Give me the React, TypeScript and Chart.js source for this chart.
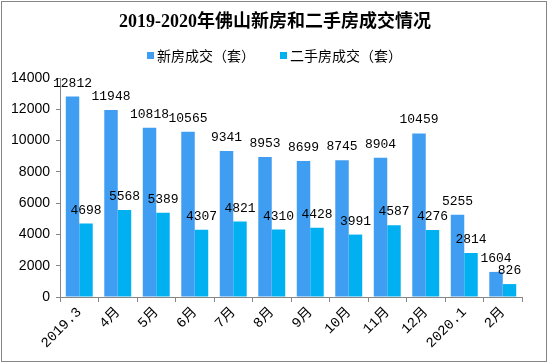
import React, { useEffect, useRef } from "react";
import { Chart, registerables } from "chart.js";

Chart.register(...registerables);

const categories = ["2019.3", "4月", "5月", "6月", "7月", "8月", "9月", "10月", "11月", "12月", "2020.1", "2月"];
const newHouse = [12812, 11948, 10818, 10565, 9341, 8953, 8699, 8745, 8904, 10459, 5255, 1604];
const secondHand = [4698, 5568, 5389, 4307, 4821, 4310, 4428, 3991, 4587, 4276, 2814, 826];
const seriesNames = ["新房成交（套）", "二手房成交（套）"];
const titleText = "2019-2020年佛山新房和二手房成交情况";
const colors = ["#409EF2", "#00B0F0"];

const W = 550;
const H = 363;

const decorPlugin = {
  id: "decor",
  beforeDraw(chart: any) {
    const ctx = chart.ctx;
    ctx.save();
    ctx.fillStyle = "#ffffff";
    ctx.fillRect(0, 0, W, H);
    ctx.strokeStyle = "#868686";
    ctx.lineWidth = 1;
    ctx.strokeRect(1.5, 1.5, 545, 360);
    // title
    ctx.fillStyle = "#000";
    ctx.font = "bold 18px 'Liberation Serif', 'Noto Sans CJK SC', serif";
    ctx.textAlign = "center";
    ctx.textBaseline = "middle";
    ctx.fillText(titleText, 275, 22);
    // legend
    ctx.font = "14px 'Noto Sans CJK SC', sans-serif";
    ctx.textAlign = "left";
    const xs = [147, 280];
    chart.data.datasets.forEach((ds: any, i: number) => {
      ctx.fillStyle = ds.backgroundColor;
      ctx.fillRect(xs[i], 52, 7, 7);
      ctx.fillStyle = "#000";
      ctx.fillText(ds.label, xs[i] + 10, 56);
    });
    ctx.restore();
  },
  afterDatasetsDraw(chart: any) {
    const ctx = chart.ctx;
    ctx.save();
    ctx.font = "13px 'Liberation Mono', monospace";
    ctx.fillStyle = "#000";
    ctx.textAlign = "center";
    ctx.textBaseline = "alphabetic";
    chart.data.datasets.forEach((ds: any, i: number) => {
      const meta = chart.getDatasetMeta(i);
      meta.data.forEach((bar: any, j: number) => {
        ctx.fillText(String(ds.data[j]), bar.x, bar.y - 10);
      });
    });
    ctx.restore();
  },
};

export default function App() {
  const ref = useRef<HTMLCanvasElement | null>(null);
  useEffect(() => {
    if (!ref.current) return;
    const chart = new Chart(ref.current, {
      type: "bar",
      data: {
        labels: categories,
        datasets: [
          { label: seriesNames[0], data: newHouse, backgroundColor: colors[0] },
          { label: seriesNames[1], data: secondHand, backgroundColor: colors[1] },
        ],
      },
      options: {
        responsive: false,
        animation: false,
        devicePixelRatio: 1,
        layout: { padding: { left: 0, right: 28, top: 78, bottom: 0 } },
        datasets: { bar: { categoryPercentage: 0.7, barPercentage: 1 } },
        plugins: { legend: { display: false }, title: { display: false }, tooltip: { enabled: false } },
        scales: {
          x: {
            grid: { display: true, drawOnChartArea: false, offset: true, tickLength: 5, color: "#868686" },
            border: { display: true, color: "#868686" },
            ticks: {
              minRotation: 45,
              maxRotation: 45,
              padding: 2,
              color: "#000",
              font: { family: "'Liberation Mono', 'Noto Sans CJK SC', monospace", size: 14 },
            },
            afterFit: (s: any) => { s.height = H - 297; },
          },
          y: {
            min: 0,
            max: 14000,
            grid: { display: true, drawOnChartArea: false, tickLength: 4, color: "#868686" },
            border: { display: true, color: "#868686" },
            ticks: {
              stepSize: 2000,
              padding: 6,
              color: "#000",
              font: { family: "'Liberation Sans', Arial, sans-serif", size: 14 },
              callback: (v: any) => String(v),
            },
            afterFit: (s: any) => { s.width = 60; },
          },
        },
      },
      plugins: [decorPlugin],
    });
    return () => chart.destroy();
  }, []);
  return (
    <div style={{ position: "absolute", left: 0, top: 0, width: W, height: H }}>
      <canvas ref={ref} width={W} height={H} style={{ display: "block" }} />
    </div>
  );
}
